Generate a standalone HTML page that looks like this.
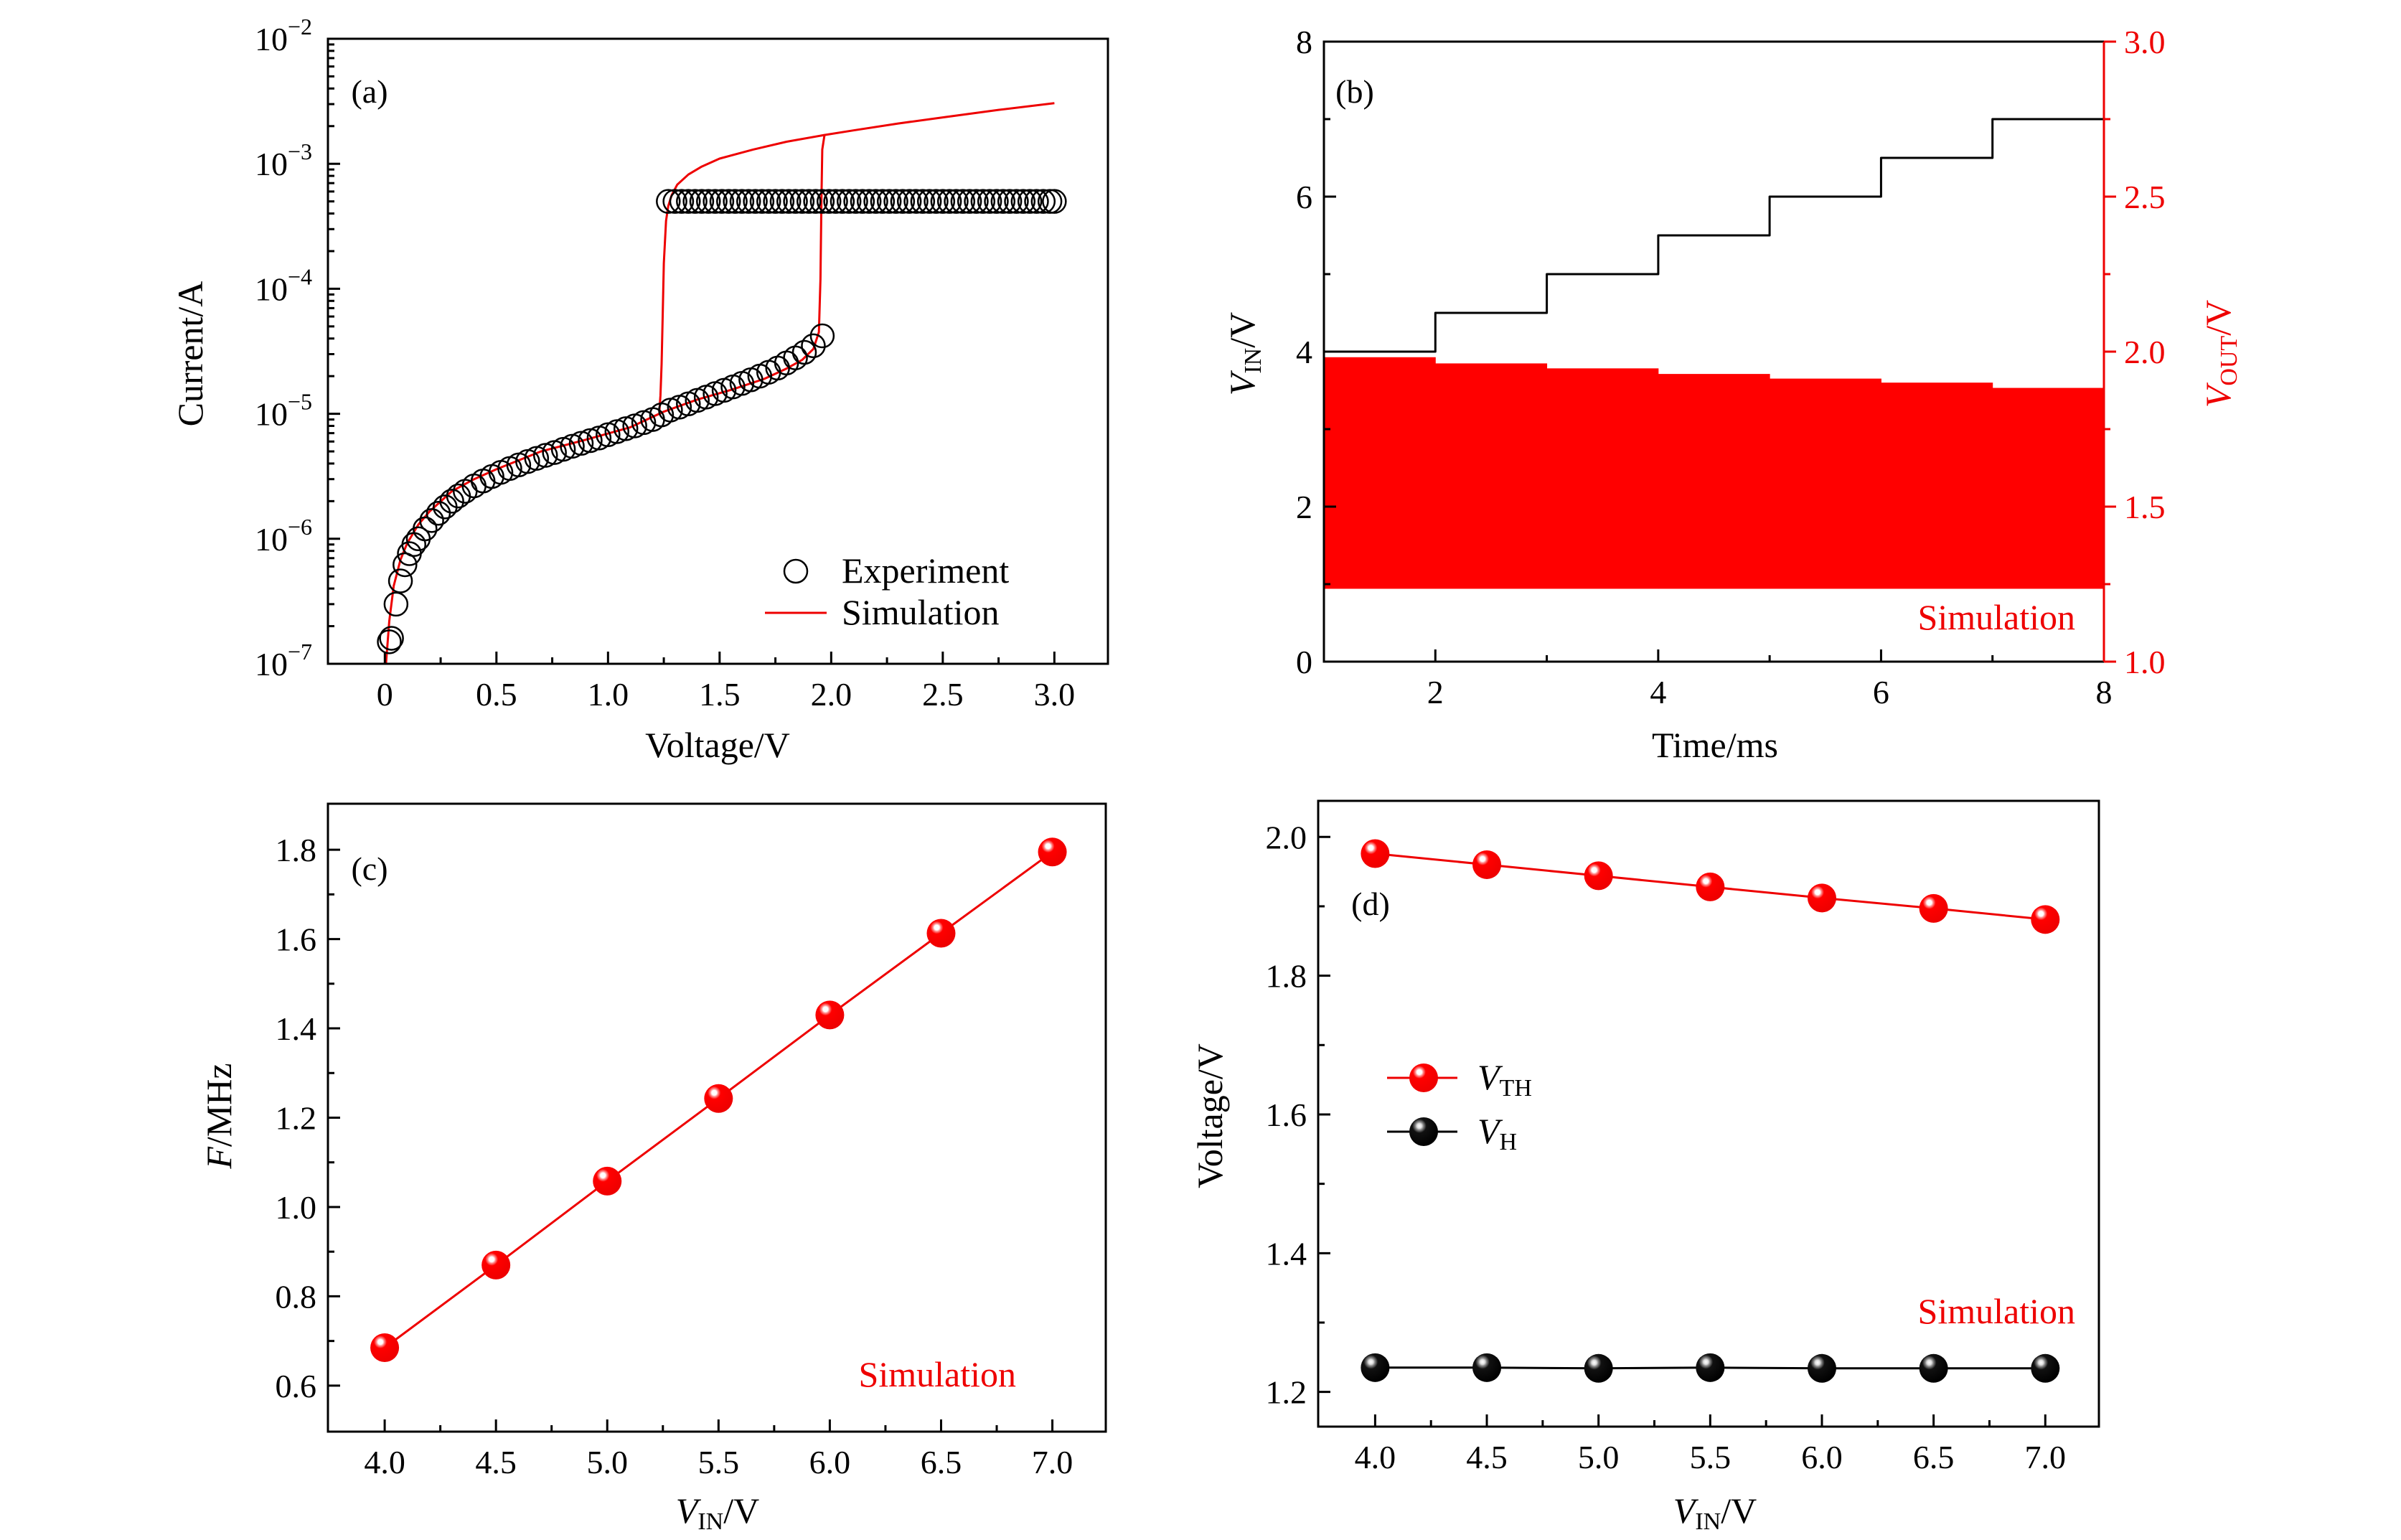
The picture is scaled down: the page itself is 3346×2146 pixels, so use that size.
<!DOCTYPE html>
<html><head><meta charset="utf-8">
<style>
html,body{margin:0;padding:0;background:#fff;}
svg{display:block;font-family:"Liberation Serif",serif;}
</style></head>
<body>
<svg id="fig" width="3346" height="2146" viewBox="0 0 3346 2146" xmlns="http://www.w3.org/2000/svg">
<defs>
<radialGradient id="gRed" cx="0.35" cy="0.3" r="0.7">
<stop offset="0" stop-color="#fff"/><stop offset="0.12" stop-color="#fff"/><stop offset="0.2" stop-color="#f88"/><stop offset="0.32" stop-color="#f00"/><stop offset="1" stop-color="#e00"/>
</radialGradient>
<radialGradient id="gBlk" cx="0.35" cy="0.3" r="0.7">
<stop offset="0" stop-color="#fff"/><stop offset="0.12" stop-color="#ddd"/><stop offset="0.2" stop-color="#888"/><stop offset="0.35" stop-color="#111"/><stop offset="1" stop-color="#000"/>
</radialGradient>
</defs>
</svg>
<script>
// ---------- data ----------
// Panel (a)
const expLowV = [0.02,0.03,0.05,0.07,0.09,0.11,0.13,0.15,0.18,0.21,0.24,0.27,0.30,0.33,0.36,0.40,0.44,0.48,0.52,0.56,0.60,0.64,0.68,0.72,0.76,0.80,0.84,0.88,0.92,0.96,1.00,1.04,1.08,1.12,1.16,1.20,1.24,1.28,1.32,1.36,1.40,1.44,1.48,1.52,1.56,1.60,1.64,1.68,1.72,1.76,1.80,1.84,1.88,1.92,1.96];
const expLowI = [1.5e-7,1.6e-7,3.0e-7,4.6e-7,6.2e-7,7.6e-7,9.0e-7,1.0e-6,1.2e-6,1.4e-6,1.6e-6,1.8e-6,2.0e-6,2.2e-6,2.4e-6,2.65e-6,2.9e-6,3.15e-6,3.4e-6,3.65e-6,3.9e-6,4.15e-6,4.4e-6,4.65e-6,4.9e-6,5.2e-6,5.5e-6,5.8e-6,6.1e-6,6.4e-6,6.8e-6,7.2e-6,7.6e-6,8.0e-6,8.5e-6,9.0e-6,9.8e-6,1.07e-5,1.13e-5,1.2e-5,1.28e-5,1.36e-5,1.45e-5,1.54e-5,1.64e-5,1.75e-5,1.87e-5,2.0e-5,2.15e-5,2.32e-5,2.55e-5,2.8e-5,3.1e-5,3.5e-5,4.2e-5];
const expHighV = [1.27,1.30,1.33,1.36,1.39,1.42,1.45,1.48,1.51,1.54,1.57,1.60,1.63,1.66,1.69,1.72,1.75,1.78,1.81,1.84,1.87,1.90,1.93,1.96,1.99,2.02,2.05,2.08,2.11,2.14,2.17,2.20,2.23,2.26,2.29,2.32,2.35,2.38,2.41,2.44,2.47,2.50,2.53,2.56,2.59,2.62,2.65,2.68,2.71,2.74,2.77,2.80,2.83,2.86,2.89,2.92,2.95,2.98,3.00];
const expHighI = [5e-4,5e-4,5e-4,5e-4,5e-4,5e-4,5e-4,5e-4,5e-4,5e-4,5e-4,5e-4,5e-4,5e-4,5e-4,5e-4,5e-4,5e-4,5e-4,5e-4,5e-4,5e-4,5e-4,5e-4,5e-4,5e-4,5e-4,5e-4,5e-4,5e-4,5e-4,5e-4,5e-4,5e-4,5e-4,5e-4,5e-4,5e-4,5e-4,5e-4,5e-4,5e-4,5e-4,5e-4,5e-4,5e-4,5e-4,5e-4,5e-4,5e-4,5e-4,5e-4,5e-4,5e-4,5e-4,5e-4,5e-4,5e-4,5e-4];
const simFwdV = [0.005,0.02,0.04,0.07,0.1,0.15,0.2,0.3,0.4,0.5,0.7,0.9,1.1,1.25,1.4,1.55,1.7,1.8,1.87,1.92,1.945,1.952,1.956,1.96,1.97,2.1,2.3,2.5,2.75,3.0];
const simFwdI = [1e-7,2.2e-7,4.2e-7,6.8e-7,9.2e-7,1.3e-6,1.65e-6,2.4e-6,3.0e-6,3.6e-6,5.0e-6,6.2e-6,7.8e-6,1.04e-5,1.3e-5,1.55e-5,1.9e-5,2.3e-5,2.7e-5,3.3e-5,4.5e-5,1.2e-4,5e-4,1.3e-3,1.7e-3,1.85e-3,2.1e-3,2.35e-3,2.7e-3,3.05e-3];
const simRevV = [1.97,1.8,1.65,1.5,1.42,1.36,1.31,1.285,1.27,1.26,1.25,1.245,1.24,1.235,1.23];
const simRevI = [1.7e-3,1.5e-3,1.3e-3,1.1e-3,9.5e-4,8.2e-4,6.8e-4,5.6e-4,4.6e-4,3.5e-4,1.6e-4,6e-5,2.5e-5,1.4e-5,1.05e-5];
const aYTicks = [-7,-6,-5,-4,-3,-2];
const aXTicks = ["0","0.5","1.0","1.5","2.0","2.5","3.0"];
// Panel (b)
const vinStepT = [1,2,3,4,5,6,7,8];
const vinStepV = [4,4.5,5,5.5,6,6.5,7];
const voutTop = [1.982,1.962,1.946,1.928,1.913,1.900,1.883];
const voutBottom = [1.235,1.235,1.235,1.235,1.235,1.235,1.235];
const bXTicks = ["2","4","6","8"];
const bYTicks = ["0","2","4","6","8"];
const bY2Ticks = ["1.0","1.5","2.0","2.5","3.0"];
// Panel (c)
const cVin = [4.0,4.5,5.0,5.5,6.0,6.5,7.0];
const cFreq = [0.685,0.870,1.058,1.243,1.430,1.613,1.795];
const cYTicks = ["0.6","0.8","1.0","1.2","1.4","1.6","1.8"];
const vinTicks = ["4.0","4.5","5.0","5.5","6.0","6.5","7.0"];
// Panel (d)
const dVin = [4.0,4.5,5.0,5.5,6.0,6.5,7.0];
const dVth = [1.976,1.960,1.944,1.928,1.912,1.897,1.881];
const dVh = [1.235,1.235,1.234,1.235,1.234,1.234,1.234];
const dYTicks = ["1.2","1.4","1.6","1.8","2.0"];

// ---------- helpers ----------
const NS = "http://www.w3.org/2000/svg";
const svg = document.getElementById('fig');
function mk(tag, attrs, parent){
  const e = document.createElementNS(NS, tag);
  for (const k in attrs) e.setAttribute(k, attrs[k]);
  (parent || svg).appendChild(e);
  return e;
}
function lin(d0,d1,r0,r1){return v => r0 + (v-d0)/(d1-d0)*(r1-r0);}
function logs(d0,d1,r0,r1){return v => r0 + (Math.log10(v)-d0)/(d1-d0)*(r1-r0);}
const FS = 46;
const TS = 50;

function frame(box, name){
  const r = mk('rect',{x:box.l,y:box.t,width:box.r-box.l,height:box.b-box.t,fill:'none',stroke:'#000','stroke-width':3});
  
  
}
function tick(x1,y1,x2,y2,name,col){
  const t = mk('line',{x1:x1,y1:y1,x2:x2,y2:y2,stroke:col||'#000','stroke-width':3});
  
  
}
function label(x,y,txt,anchor,name,extra){
  const t = mk('text',Object.assign({x:x,y:y,'font-size':FS,'text-anchor':anchor||'middle'},extra||{}));
  t.textContent = txt;
  
  
  return t;
}
function xAxis(box, sx, ticks, minorStep, name){
  const vals = ticks.map(Number);
  const step = vals[1]-vals[0];
  const d0 = vals[0] - step*4, d1 = vals[vals.length-1] + step*4;
  for (let v = d0; v <= d1+1e-9; v += minorStep){
    const x = sx(v);
    if (x < box.l+2 || x > box.r-2) continue;
    const major = vals.some(m => Math.abs(m-v)<1e-6);
    tick(x, box.b, x, box.b-(major?17:9), name+(major?'-major-tick':'-minor-tick'));
  }
  ticks.forEach(t => label(sx(Number(t)), box.b+58, t, 'middle', name+'-tick-label'));
}
function yAxis(box, sy, ticks, minorStep, name, right, col, outward){
  const vals = ticks.map(Number);
  const step = vals[1]-vals[0];
  const d0 = vals[0]-step*4, d1 = vals[vals.length-1]+step*4;
  const x0 = right ? box.r : box.l;
  const dir = (right ? -1 : 1) * (outward ? -1 : 1);
  for (let v = d0; v <= d1+1e-9; v += minorStep){
    const y = sy(v);
    if (y < box.t-1 || y > box.b+1) continue;
    if (!outward && (y < box.t+2 || y > box.b-2)) continue;
    const major = vals.some(m => Math.abs(m-v)<1e-6);
    tick(x0, y, x0+dir*(major?17:9), y, name+(major?'-major-tick':'-minor-tick'), col);
  }
  ticks.forEach(t => label(right ? x0+28 : x0-16, sy(Number(t))+16, t, right?'start':'end', name+'-tick-label', col?{fill:col}:{}));
}
function sphere(x,y,grad,name){
  const c = mk('circle',{cx:x,cy:y,r:20,fill:'url(#'+grad+')'});
  
  
}
function polyline(pts,col,w,name){
  const p = mk('polyline',{points:pts.map(p=>p[0].toFixed(1)+','+p[1].toFixed(1)).join(' '),fill:'none',stroke:col,'stroke-width':w,'stroke-linejoin':'round'});
  
  
}
function subLabel(x,y,parts,anchor,name,col,rot){
  const attrs = {x:x,y:y,'font-size':TS,'text-anchor':anchor||'middle'};
  if (col) attrs.fill = col;
  if (rot) attrs.transform = 'rotate(-90 '+x+' '+y+')';
  const t = mk('text',attrs);
  
  
  parts.forEach(p => {
    const s = mk('tspan',{}, t);
    if (p.i) s.setAttribute('font-style','italic');
    if (p.sub){ s.setAttribute('font-size','34'); s.setAttribute('dy','9'); }
    if (p.after){ s.setAttribute('dy','-9'); }
    s.textContent = p.t;
  });
  return t;
}

// ---------- Panel (a) ----------
const A = {l:457,t:54,r:1544,b:925};
const axA = lin(-0.255,3.24,A.l,A.r);
const ayA = logs(-7,-2,A.b,A.t);
polyline(simFwdV.map((v,i)=>[axA(v),ayA(simFwdI[i])]),'#e00',3,'sim-forward-curve');
polyline(simRevV.map((v,i)=>[axA(v),ayA(simRevI[i])]),'#e00',3,'sim-reverse-curve');
expLowV.forEach((v,i)=>{
  const c = mk('circle',{cx:axA(v),cy:ayA(expLowI[i]),r:16,fill:'none',stroke:'#000','stroke-width':2.5});
  
  
});
expHighV.forEach((v,i)=>{
  const c = mk('circle',{cx:axA(v),cy:ayA(expHighI[i]),r:16,fill:'none',stroke:'#000','stroke-width':2.5});
  
  
});
frame(A,'panel-a');
xAxis(A, axA, aXTicks, 0.25, 'a-x');
aYTicks.forEach((e,k)=>{
  const y = ayA(Math.pow(10,e));
  if (k>0 && k<aYTicks.length-1) tick(A.l,y,A.l+17,y,'a-y-major-tick');
  const t = mk('text',{x:A.l-22,y:y+16,'font-size':FS,'text-anchor':'end'});
  
  
  const s1 = mk('tspan',{},t); s1.textContent='10';
  const s2 = mk('tspan',{'font-size':32,dy:-22},t); s2.textContent='\u2212'+(-e);
  if (e<-2){
    for (let m=2;m<=9;m++){
      const ym = ayA(m*Math.pow(10,e));
      tick(A.l,ym,A.l+9,ym,'a-y-minor-tick');
    }
  }
});
label(515,143,'(a)','middle','panel-a-label');
label(282,493,'Current/A','middle','a-y-axis-title',{'font-size':TS,transform:'rotate(-90 282 493)'});
label(1000,1055,'Voltage/V','middle','a-x-axis-title',{'font-size':TS});
const lc = mk('circle',{cx:1109,cy:796,r:16,fill:'none',stroke:'#000','stroke-width':2.5});


label(1173,812,'Experiment','start','legend-experiment-label',{'font-size':TS});
tick(1066,854,1152,854,'legend-simulation-line','#e00');
label(1173,870,'Simulation','start','legend-simulation-label',{'font-size':TS});

// ---------- Panel (b) ----------
const B = {l:1845,t:58,r:2932,b:922};
const axB = lin(1,8,B.l,B.r);
const ayB = lin(0,8,B.b,B.t);
const ay2B = lin(1,3,B.b,B.t);
vinStepV.forEach((v,i)=>{
  const x0 = axB(vinStepT[i]), x1 = axB(vinStepT[i+1]);
  const r = mk('rect',{x:x0,y:ay2B(voutTop[i]),width:x1-x0+0.5,height:ay2B(voutBottom[i])-ay2B(voutTop[i]),fill:'#f00'});
  
  
});
const stepPts = [];
vinStepV.forEach((v,i)=>{ stepPts.push([axB(vinStepT[i]),ayB(v)]); stepPts.push([axB(vinStepT[i+1]),ayB(v)]); });
polyline(stepPts,'#000',3,'vin-step-line');
const fb = mk('polyline',{points:[B.r,B.t,B.l,B.t,B.l,B.b,B.r,B.b].join(' '),fill:'none',stroke:'#000','stroke-width':3});


tick(B.r,B.t,B.r,B.b,'b-right-axis-line','#e00');
xAxis(B, axB, bXTicks, 1, 'b-x');
yAxis(B, ayB, bYTicks, 1, 'b-y');
yAxis(B, ay2B, bY2Ticks, 0.25, 'b-y2', true, '#e00', true);
label(1888,143,'(b)','middle','panel-b-label');
label(2892,877,'Simulation','end','b-simulation-note',{'font-size':TS,fill:'#e00'});
subLabel(1748,493,[{t:'V',i:1},{t:'IN',sub:1},{t:'/V',after:1}],'middle','b-y-axis-title',null,true);
subLabel(3108,493,[{t:'V',i:1},{t:'OUT',sub:1},{t:'/V',after:1}],'middle','b-y2-axis-title','#e00',true);
label(2390,1055,'Time/ms','middle','b-x-axis-title',{'font-size':TS});

// ---------- Panel (c) ----------
const C = {l:457,t:1120,r:1541,b:1995};
const axC = lin(3.745,7.24,C.l,C.r);
const ayC = lin(0.497,1.903,C.b,C.t);
polyline(cVin.map((v,i)=>[axC(v),ayC(cFreq[i])]),'#e00',3,'frequency-line');
cVin.forEach((v,i)=>sphere(axC(v),ayC(cFreq[i]),'gRed','frequency-point'));
frame(C,'panel-c');
xAxis(C, axC, vinTicks, 0.25, 'c-x');
yAxis(C, ayC, cYTicks, 0.1, 'c-y');
label(515,1226,'(c)','middle','panel-c-label');
label(1416,1932,'Simulation','end','c-simulation-note',{'font-size':TS,fill:'#e00'});
subLabel(322,1555,[{t:'F',i:1},{t:'/MHz'}],'middle','c-y-axis-title',null,true);
subLabel(1000,2122,[{t:'V',i:1},{t:'IN',sub:1},{t:'/V',after:1}],'middle','c-x-axis-title');

// ---------- Panel (d) ----------
const D = {l:1837,t:1116,r:2925,b:1988};
const axD = lin(3.745,7.24,D.l,D.r);
const ayD = lin(1.15,2.052,D.b,D.t);
polyline(dVin.map((v,i)=>[axD(v),ayD(dVth[i])]),'#e00',3,'vth-line');
polyline(dVin.map((v,i)=>[axD(v),ayD(dVh[i])]),'#000',3,'vh-line');
dVin.forEach((v,i)=>sphere(axD(v),ayD(dVth[i]),'gRed','vth-point'));
dVin.forEach((v,i)=>sphere(axD(v),ayD(dVh[i]),'gBlk','vh-point'));
frame(D,'panel-d');
xAxis(D, axD, vinTicks, 0.25, 'd-x');
yAxis(D, ayD, dYTicks, 0.1, 'd-y');
label(1910,1275,'(d)','middle','panel-d-label');
label(2892,1844,'Simulation','end','d-simulation-note',{'font-size':TS,fill:'#e00'});
tick(1933,1502,2031,1502,'legend-vth-line','#e00');
sphere(1984,1502,'gRed','legend-vth-marker');
subLabel(2059,1518,[{t:'V',i:1},{t:'TH',sub:1}],'start','legend-vth-label');
tick(1933,1577,2031,1577,'legend-vh-line','#000');
sphere(1984,1577,'gBlk','legend-vh-marker');
subLabel(2059,1593,[{t:'V',i:1},{t:'H',sub:1}],'start','legend-vh-label');
label(1703,1555,'Voltage/V','middle','d-y-axis-title',{'font-size':TS,transform:'rotate(-90 1703 1555)'});
subLabel(2390,2122,[{t:'V',i:1},{t:'IN',sub:1},{t:'/V',after:1}],'middle','d-x-axis-title');
</script>
</body></html>
